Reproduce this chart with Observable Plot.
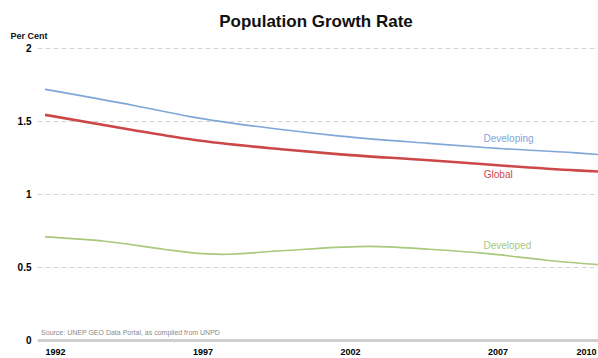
<!DOCTYPE html>
<html><head><meta charset="utf-8">
<script src="https://cdn.jsdelivr.net/npm/d3@7"></script>
<script src="https://cdn.jsdelivr.net/npm/@observablehq/plot@0.6"></script>
<style>body{margin:0;background:#fff;font-family:"Liberation Sans",Arial,sans-serif}</style>
</head><body><div id="chart"></div>
<script>
const years = [1992, 1995, 1997, 2000, 2002, 2005, 2007, 2010, 2011];
const developing = [1.72, 1.61, 1.53, 1.445, 1.40, 1.35, 1.32, 1.285, 1.27];
const global = [1.545, 1.44, 1.375, 1.31, 1.275, 1.235, 1.205, 1.165, 1.155];
const developedYears = [1992, 1994, 1996, 1997, 1998, 2000, 2003, 2005, 2007, 2009, 2011];
const developed = [0.71, 0.68, 0.625, 0.60, 0.59, 0.615, 0.645, 0.625, 0.595, 0.55, 0.515];
const xTicks = [1992, 1997, 2002, 2007, 2010];
const yTicks = [0, 0.5, 1, 1.5, 2];
const seriesNames = ["Developing", "Global", "Developed"];
const seriesColors = ["#7fa6d8", "#cc4848", "#a9c97c"];
const labelPos = [[2007.7, 1.384], [2007.35, 1.137], [2007.66, 0.651]];

const rows = [];
years.forEach((y, i) => rows.push({year: y, value: developing[i], s: "Developing"}));
years.forEach((y, i) => rows.push({year: y, value: global[i], s: "Global"}));
developedYears.forEach((y, i) => rows.push({year: y, value: developed[i], s: "Developed"}));
const labels = seriesNames.map((s, i) => ({s, year: labelPos[i][0], value: labelPos[i][1]}));
const col = Object.fromEntries(seriesNames.map((s, i) => [s, seriesColors[i]]));
const widths = {Developing: 1.6, Global: 2.6, Developed: 1.6};

const chart = Plot.plot({
  width: 598, height: 358,
  marginLeft: 45, marginRight: 0, marginTop: 48, marginBottom: 18,
  style: {fontFamily: "'Liberation Sans', Arial, sans-serif", background: "#fff"},
  x: {domain: [1992, 2010.75]},
  y: {domain: [0, 2]},
  marks: [
    Plot.ruleY(yTicks.filter(d => d > 0), {x1: 1991.75, x2: 2010.75, stroke: "#d4d4d4", strokeDasharray: "5,3", strokeWidth: 1}),
    Plot.ruleY([0], {x1: 1991.75, x2: 2010.75, stroke: "#cfcfcf", strokeWidth: 3}),
    ...seriesNames.map(s => Plot.line(rows.filter(r => r.s === s), {x: "year", y: "value", stroke: col[s], strokeWidth: widths[s], curve: "monotone-x", clip: true})),
    Plot.text(labels, {x: "year", y: "value", text: "s", fill: d => col[d.s], fontSize: 10}),
    Plot.text(["Source: UNEP GEO Data Portal, as compiled from UNPD"], {x: 1991.85, y: 0.05, text: d => d, textAnchor: "start", fontSize: 7, fill: "#8a8a8a"}),
    Plot.axisY(yTicks, {tickSize: 0, tickPadding: 14, fontWeight: "bold", fontSize: 10, tickFormat: d => String(d), label: null}),
    Plot.axisX(xTicks, {tickSize: 0, tickPadding: 8, textAnchor: "start", fontWeight: "bold", fontSize: 9, tickFormat: d => String(d), label: null}),
    Plot.text(["Population Growth Rate"], {frameAnchor: "top", dx: -6, dy: -34, text: d => d, fontSize: 17, fontWeight: "bold", fill: "#111"}),
    Plot.text(["Per Cent"], {frameAnchor: "top-left", dx: -35, dy: -16, text: d => d, fontSize: 9, fontWeight: "bold", textAnchor: "start", fill: "#111"})
  ]
});
document.getElementById("chart").appendChild(chart);
</script></body></html>
